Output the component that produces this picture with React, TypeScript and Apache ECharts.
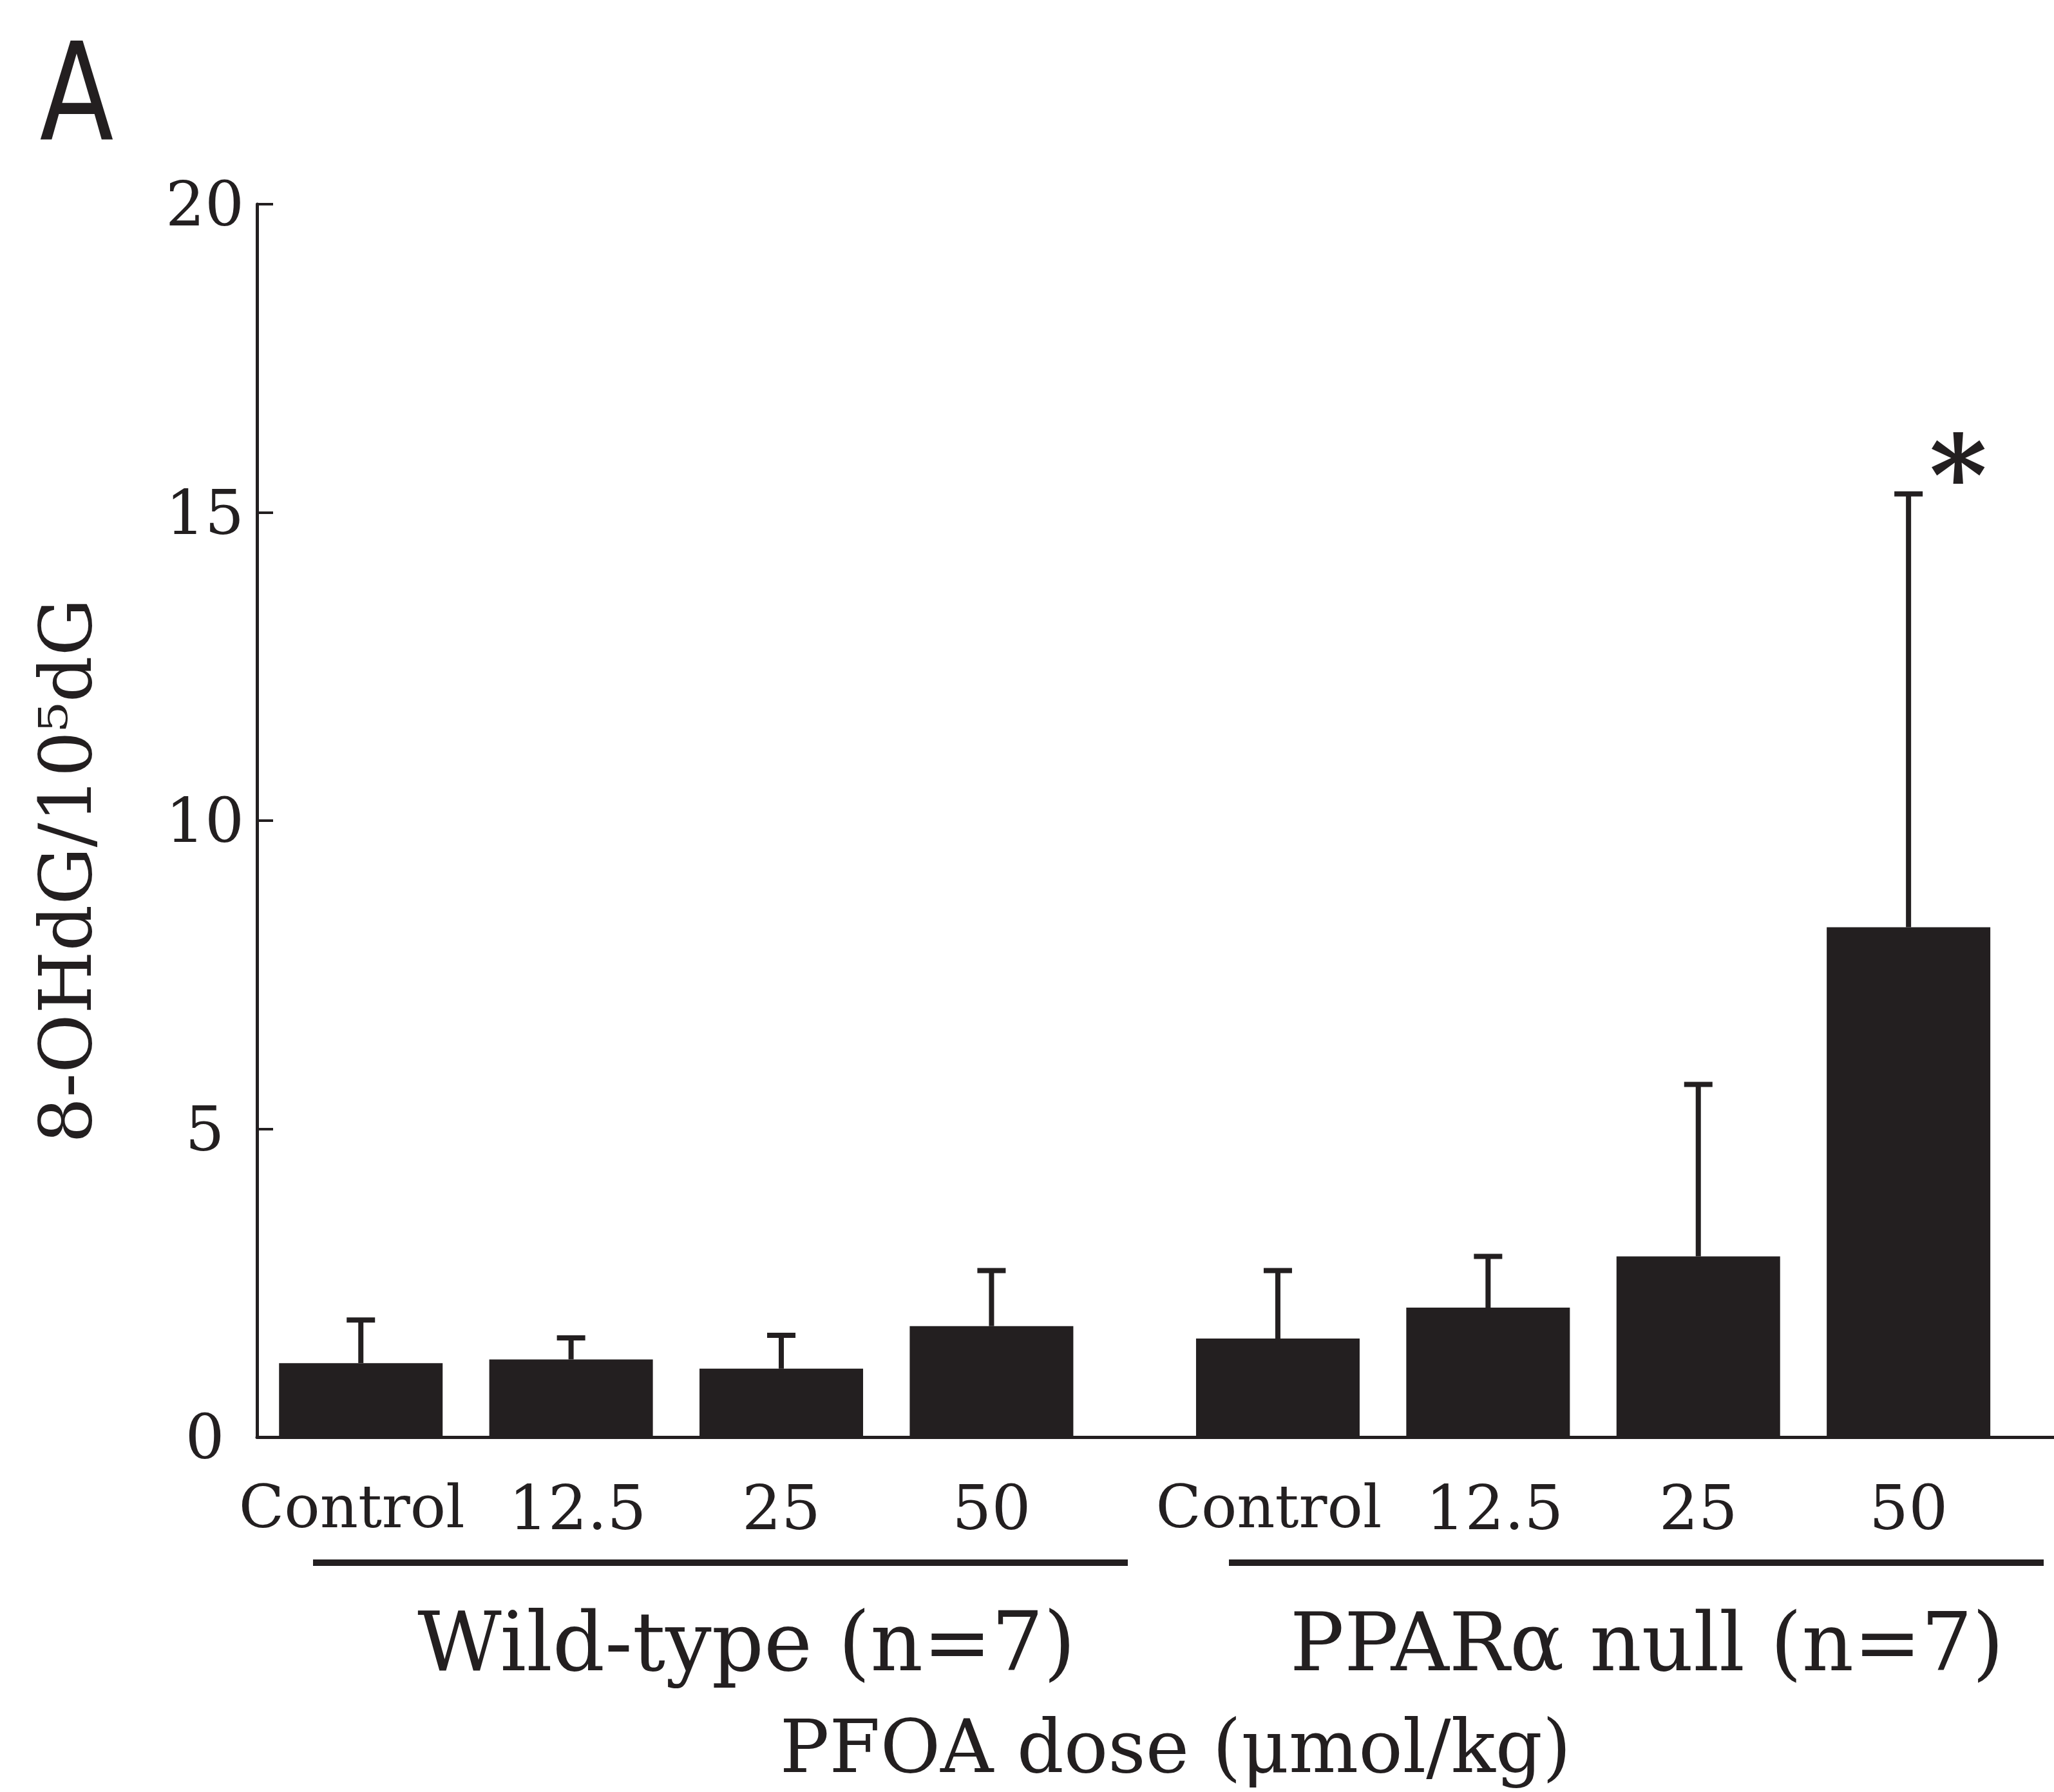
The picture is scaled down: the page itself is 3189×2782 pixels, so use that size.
import React, { useEffect, useRef } from "react";
import * as echarts from "echarts";

// ---- data ----
const categories = ["Control", "12.5", "25", "50", "Control", "12.5", "25", "50"];
const groupOf = [0, 0, 0, 0, 1, 1, 1, 1];
const groups = ["Wild-type (n=7)", "PPARα null (n=7)"];
const means = [1.2, 1.26, 1.11, 1.8, 1.6, 2.1, 2.93, 8.27];
const sds = [0.7, 0.35, 0.54, 0.9, 1.1, 0.83, 2.79, 7.03];
const significance = ["", "", "", "", "", "", "", "*"];
const yTicks = [0, 5, 10, 15, 20];
const yTitle = "8-OHdG/10⁵dG";
const xTitle = "PFOA dose (μmol/kg)";
const panelLabel = "A";

// ---- layout ----
const GROUP_EXTRA_GAP = 0.362;
const INK = "#231f20";
const SERIF = "DejaVu Serif";

export default function App() {
  const ref = useRef<HTMLDivElement>(null);

  useEffect(() => {
    if (!ref.current) return;
    const chart = echarts.init(ref.current, undefined, { renderer: "svg" });
    const xPos = categories.map((_, i) => i + groupOf[i] * GROUP_EXTRA_GAP);
    const labelFor = (v: number) => {
      let best = 0;
      xPos.forEach((p, i) => {
        if (Math.abs(p - v) < Math.abs(xPos[best] - v)) best = i;
      });
      const t = categories[best];
      if (t === "Control") return `{ctl|${t}}`;
      if (t.indexOf(".") >= 0) return `{dec|${t}}`;
      return t;
    };

    chart.setOption({
      animation: false,
      backgroundColor: "#ffffff",
      grid: { left: 399, right: 0, top: 317, bottom: 551, containLabel: false },
      xAxis: {
        type: "value",
        min: -0.494,
        max: 8.054,
        axisLine: { show: true, onZero: false, lineStyle: { color: INK, width: 5 } },
        axisTick: { show: false },
        splitLine: { show: false },
        axisLabel: {
          customValues: xPos,
          formatter: (v: number) => labelFor(v),
          fontSize: 96,
          fontFamily: SERIF,
          color: INK,
          margin: 62,
          rich: {
            ctl: { fontSize: 92, fontFamily: SERIF, color: INK, padding: [0, 28, 0, 0] },
            dec: { fontSize: 96, fontFamily: SERIF, color: INK, padding: [0, 0, 0, 20] },
          },
        },
      },
      yAxis: {
        type: "value",
        min: yTicks[0],
        max: yTicks[yTicks.length - 1],
        interval: yTicks[1] - yTicks[0],
        axisLine: { show: true, onZero: false, lineStyle: { color: INK, width: 5 } },
        axisTick: { show: true, inside: true, length: 25, lineStyle: { color: INK, width: 4 } },
        splitLine: { show: false },
        axisLabel: {
          fontSize: 96,
          fontFamily: SERIF,
          color: INK,
          margin: 81,
          align: "center",
        },
      },
      series: [
        {
          type: "bar",
          data: means.map((m, i) => [xPos[i], m]),
          barWidth: 254,
          itemStyle: { color: INK },
          z: 2,
        },
        {
          type: "custom",
          z: 3,
          data: means.map((m, i) => [xPos[i], m, m + sds[i], i]),
          renderItem: (params: any, api: any) => {
            const x = api.value(0);
            const m = api.value(1);
            const u = api.value(2);
            const idx = api.value(3);
            const base = api.coord([x, m]);
            const top = api.coord([x, u]);
            const children: any[] = [
              {
                type: "rect",
                shape: { x: base[0] - 4, y: top[1], width: 8, height: base[1] - top[1] },
                style: { fill: INK },
              },
              {
                type: "rect",
                shape: { x: base[0] - 22, y: top[1] - 4, width: 44, height: 8 },
                style: { fill: INK },
              },
            ];
            if (significance[idx]) {
              children.push({
                type: "text",
                x: top[0] + 77,
                y: top[1] - 28,
                style: {
                  text: significance[idx],
                  fontSize: 172,
                  fontWeight: "bold",
                  fontFamily: SERIF,
                  fill: INK,
                  align: "center",
                  verticalAlign: "middle",
                },
              });
            }
            return { type: "group", children };
          },
        },
      ],
      graphic: [
        {
          type: "text",
          x: 119,
          y: 143,
          scaleX: 0.8,
          style: {
            text: panelLabel,
            fontSize: 210,
            fontFamily: "DejaVu Sans",
            fill: INK,
            align: "center",
            verticalAlign: "middle",
          },
        },
        {
          type: "text",
          x: 102,
          y: 1352,
          rotation: Math.PI / 2,
          style: {
            text: yTitle,
            fontSize: 112,
            fontFamily: SERIF,
            fill: INK,
            align: "center",
            verticalAlign: "middle",
          },
        },
        { type: "rect", shape: { x: 486, y: 2421, width: 1265, height: 10 }, style: { fill: INK } },
        { type: "rect", shape: { x: 1908, y: 2421, width: 1265, height: 10 }, style: { fill: INK } },
        {
          type: "text",
          x: 1159,
          y: 2549,
          style: { text: groups[0], fontSize: 127, fontFamily: SERIF, fill: INK, align: "center", verticalAlign: "middle" },
        },
        {
          type: "text",
          x: 2557,
          y: 2549,
          style: { text: groups[1], fontSize: 125, fontFamily: SERIF, fill: INK, align: "center", verticalAlign: "middle" },
        },
        {
          type: "text",
          x: 1825,
          y: 2711,
          style: { text: xTitle, fontSize: 114, fontFamily: SERIF, fill: INK, align: "center", verticalAlign: "middle" },
        },
      ],
    });
    return () => chart.dispose();
  }, []);

  return (
    <div
      ref={ref}
      style={{ position: "absolute", left: 0, top: 0, width: 3189, height: 2782, background: "#fff" }}
    />
  );
}
